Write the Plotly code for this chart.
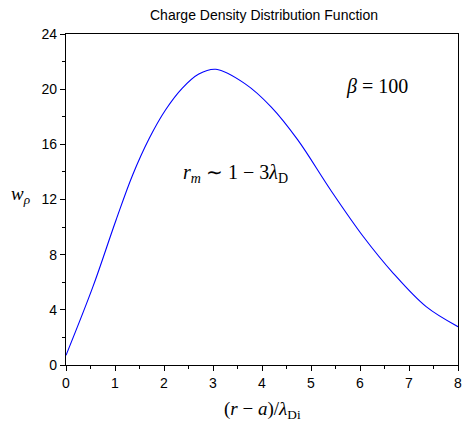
import plotly.graph_objects as go

# values
x_vals = [0, 0.55, 1.02, 1.36, 1.70, 2.03, 2.37, 2.71, 3.06, 3.65, 4.19, 4.73,
          5.40, 6.07, 6.68, 7.35, 8.0]
w_rho = [0.7, 5.68, 10.5, 13.78, 16.44, 18.49, 20.06, 21.1, 21.44, 20.4, 18.7, 16.32,
         12.69, 9.30, 6.65, 4.23, 2.78]

x_ticks = [0, 1, 2, 3, 4, 5, 6, 7, 8]
y_ticks = [0, 4, 8, 12, 16, 20, 24]

fig = go.Figure()
fig.add_trace(go.Scatter(x=x_vals, y=w_rho, mode="lines",
                         line=dict(color="#0000ff", width=1.1, shape="spline", smoothing=1.0),
                         showlegend=False))

tickfont = dict(family="Liberation Sans, Arial", size=14, color="black")
serif = "Liberation Serif, Times New Roman, serif"

fig.update_layout(
    width=467, height=422,
    margin=dict(l=66, r=5, t=34, b=57),
    paper_bgcolor="white", plot_bgcolor="white",
    title=dict(text="Charge Density Distribution Function", x=264/467, xanchor="center",
               y=1 - 15/422, yanchor="middle",
               font=dict(family="Liberation Sans, Arial", size=14, color="black")),
    xaxis=dict(range=[0, 8], tickvals=x_ticks, ticks="outside", ticklen=5, tickwidth=1,
               tickcolor="black", showline=True, linecolor="black", linewidth=1.3, mirror=True,
               showgrid=False, zeroline=False, tickfont=tickfont,
               minor=dict(dtick=0.5, ticks="outside", ticklen=3, tickcolor="black", showgrid=False)),
    yaxis=dict(range=[0, 24], tickvals=y_ticks, ticks="outside", ticklen=5, tickwidth=1,
               tickcolor="black", showline=True, linecolor="black", linewidth=1.3, mirror=True,
               showgrid=False, zeroline=False, tickfont=tickfont,
               minor=dict(dtick=2, ticks="outside", ticklen=3, tickcolor="black", showgrid=False)),
    annotations=[
        dict(text="<i>w</i><sub><i>ρ</i></sub>", xref="paper", yref="paper",
             x=(20 - 66) / 396, y=(365 - 195) / 331, xanchor="center", yanchor="middle",
             showarrow=False, font=dict(family=serif, size=19, color="black")),
        dict(text="(<i>r</i> − <i>a</i>)/<i>λ</i><sub>Di</sub>", xref="paper", yref="paper",
             x=0.5, y=(365 - 410) / 331, xanchor="center", yanchor="middle", showarrow=False,
             font=dict(family=serif, size=19, color="black")),
        dict(text="<i>β</i> = 100", x=6.34, y=20.2, xanchor="center", yanchor="middle",
             showarrow=False, font=dict(family=serif, size=20, color="black")),
        dict(text="<i>r</i><sub><i>m</i></sub> ∼ 1 − 3<i>λ</i><sub>D</sub>", x=3.45, y=13.9,
             xanchor="center", yanchor="middle",
             showarrow=False, font=dict(family=serif, size=20, color="black")),
    ],
)

fig.write_html("out.html")
